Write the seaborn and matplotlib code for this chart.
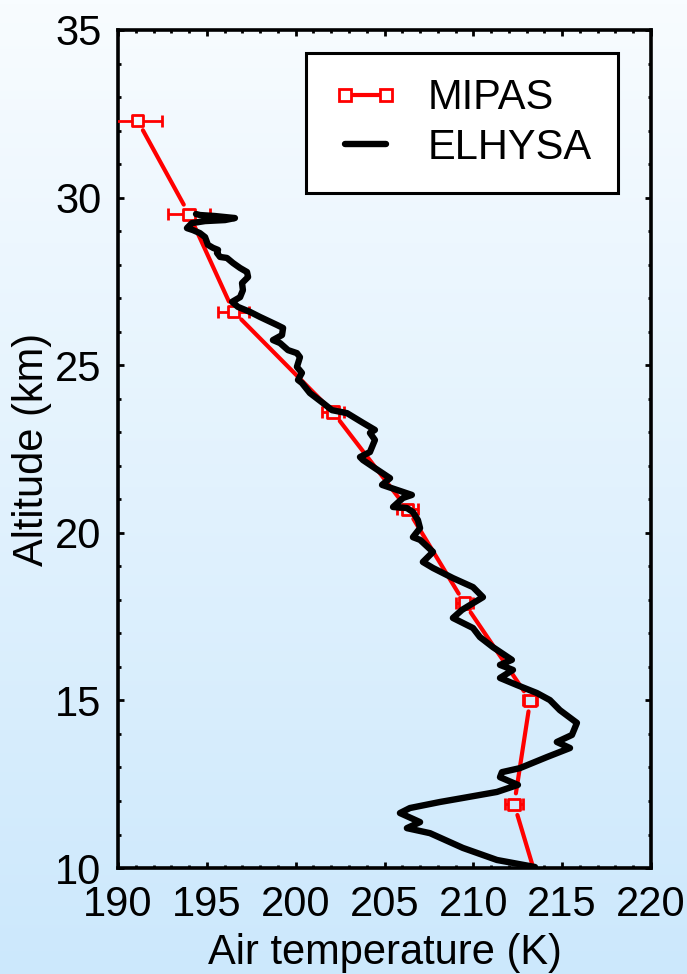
import numpy as np
import pandas as pd
import matplotlib
matplotlib.use("Agg")
import matplotlib.pyplot as plt
import seaborn as sns
from matplotlib.lines import Line2D
from matplotlib.ticker import MultipleLocator

# ---------------- data ----------------
mipas_temp = [191.1, 194.0, 196.5, 202.1, 206.3, 209.5, 213.2, 212.3, 214.0]
mipas_alt = [32.3, 29.5, 26.6, 23.6, 20.7, 17.9, 15.0, 11.9, 8.9]
mipas_err = [1.4, 1.2, 0.9, 0.6, 0.6, 0.5, 0.4, 0.5, 0.5]

elhysa_temp = [213.47, 211.33, 209.41, 207.56, 206.26, 207.00, 205.87, 206.43, 208.12, 209.41,
               211.33, 212.51, 211.50, 211.61, 212.62, 214.14, 215.44, 214.70, 215.55, 215.83,
               214.87, 214.31, 213.58, 212.45, 211.50, 212.23, 211.50, 212.17, 211.10, 210.37,
               209.98, 208.85, 209.36, 210.54, 209.98, 208.85, 208.29, 207.73, 207.16, 207.73,
               207.00, 206.60, 207.00, 206.88, 206.60, 206.26, 205.48, 206.04, 206.54, 205.70,
               204.86, 205.31, 204.63, 203.79, 203.62, 204.18, 204.46, 204.18, 204.46, 203.79,
               202.89, 202.04, 201.54, 200.80, 200.35, 200.13, 200.35, 200.07, 200.24, 200.07,
               199.57, 199.12, 198.72, 199.23, 199.29, 198.95, 197.99, 197.43, 196.75, 196.42,
               196.87, 197.03, 196.98, 197.32, 197.26, 196.87, 196.47, 196.13, 195.74, 195.57,
               195.63, 195.35, 195.06, 194.90, 194.61, 194.22, 193.88, 194.16, 194.90, 196.02,
               196.58, 195.46, 194.61, 194.39]
elhysa_alt = [10.03, 10.24, 10.60, 11.04, 11.19, 11.37, 11.64, 11.79, 11.97, 12.09,
              12.27, 12.48, 12.71, 12.86, 12.98, 13.31, 13.58, 13.76, 13.97, 14.33,
              14.71, 15.01, 15.22, 15.46, 15.67, 15.91, 16.06, 16.21, 16.59, 16.89,
              17.16, 17.46, 17.70, 18.08, 18.38, 18.65, 18.80, 18.95, 19.13, 19.43,
              19.79, 19.87, 20.14, 20.38, 20.62, 20.74, 20.77, 21.04, 21.13, 21.28,
              21.43, 21.63, 21.87, 22.17, 22.26, 22.41, 22.77, 22.98, 23.07, 23.28,
              23.57, 23.66, 23.87, 24.17, 24.47, 24.56, 24.77, 24.95, 25.24, 25.36,
              25.45, 25.66, 25.75, 25.90, 26.11, 26.20, 26.44, 26.59, 26.74, 26.89,
              27.03, 27.24, 27.45, 27.63, 27.78, 27.90, 28.05, 28.20, 28.23, 28.35,
              28.44, 28.50, 28.59, 28.82, 28.94, 29.03, 29.09, 29.24, 29.30, 29.33,
              29.39, 29.45, 29.48, 29.51]

x_ticks = [190, 195, 200, 205, 210, 215, 220]
y_ticks = [10, 15, 20, 25, 30, 35]
x_label = "Air temperature (K)"
y_label = "Altitude (km)"
series_names = ["MIPAS", "ELHYSA"]

# ---------------- style ----------------
sns.set_style("ticks")
plt.rcParams["font.family"] = ["Liberation Sans", "DejaVu Sans"]
plt.rcParams["text.color"] = "black"
plt.rcParams["axes.labelcolor"] = "black"
plt.rcParams["xtick.color"] = "black"
plt.rcParams["ytick.color"] = "black"

TOP_BG = np.array([248, 252, 255]) / 255
BOT_BG = np.array([204, 232, 252]) / 255

fig = plt.figure(figsize=(6.87, 9.74), dpi=100)
fig.patch.set_facecolor(BOT_BG)

# gradient background
bg = fig.add_axes([0, 0, 1, 1], zorder=-10)
grad = np.linspace(0, 1, 256)[:, None, None]
img = TOP_BG[None, None, :] * (1 - grad) + BOT_BG[None, None, :] * grad
bg.imshow(img, aspect="auto", extent=[0, 1, 0, 1], origin="upper")
bg.axis("off")

ax = fig.add_axes([0.1718, 0.1088, 0.7758, 0.8604])
ax.set_facecolor("none")

df_e = pd.DataFrame({"T": elhysa_temp, "Z": elhysa_alt})
df_m = pd.DataFrame({"T": mipas_temp, "Z": mipas_alt, "err": mipas_err})

ax.set_xlim(190, 220)
ax.set_ylim(10, 35)

# MIPAS connecting line with gaps around markers
n = len(mipas_temp)
for i in range(n - 1):
    ann = ax.annotate("", xy=(mipas_temp[i + 1], mipas_alt[i + 1]),
                      xytext=(mipas_temp[i], mipas_alt[i]),
                      xycoords="data", textcoords="data", annotation_clip=False,
                      arrowprops=dict(arrowstyle="-", color="#ff0000", lw=3.0,
                                      shrinkA=8, shrinkB=8 if i < n - 2 else 0),
                      zorder=2)
    ann.arrow_patch.set_clip_box(ax.bbox)
    ann.arrow_patch.set_clip_on(True)

# error bars
ax.errorbar(df_m["T"], df_m["Z"], xerr=df_m["err"], fmt="none", ecolor="#ff0000",
            elinewidth=2.0, capsize=4.5, capthick=2.0, zorder=3)

# markers
sns.scatterplot(data=df_m, x="T", y="Z", marker="s", s=68, color="#ff0000",
                edgecolor="#ff0000", linewidth=2.0, ax=ax, zorder=4, legend=False)
fig.canvas.draw()
coll = ax.collections[-1]
facecols = []
H = fig.get_size_inches()[1] * fig.dpi
for t, z in zip(mipas_temp, mipas_alt):
    yf = ax.transData.transform((t, z))[1] / H
    c = TOP_BG * yf + BOT_BG * (1 - yf)
    facecols.append(np.clip(c, 0, 1))
coll.set_facecolor(facecols)

# ELHYSA profile
sns.lineplot(data=df_e, x="T", y="Z", sort=False, estimator=None, color="black",
             lw=4.6, ax=ax, zorder=5, solid_joinstyle="round", solid_capstyle="round")

ax.set_xlim(190, 220)
ax.set_ylim(10, 35)
ax.set_xticks(x_ticks)
ax.set_yticks(y_ticks)
ax.set_xticklabels([str(v) for v in x_ticks])
ax.set_yticklabels([str(v) for v in y_ticks])
ax.xaxis.set_minor_locator(MultipleLocator(1))
ax.yaxis.set_minor_locator(MultipleLocator(1))
ax.tick_params(which="both", direction="in", top=True, right=True, colors="black",
               labelcolor="black")
ax.tick_params(which="major", length=4.5, width=2.0, labelsize=30, pad=12)
ax.tick_params(which="minor", length=2.5, width=2.0)
for s in ax.spines.values():
    s.set_linewidth(2.6)
    s.set_color("black")

ax.set_xlabel(x_label, fontsize=30, labelpad=6, color="black")
ax.set_ylabel(y_label, fontsize=30, labelpad=2, color="black")

handles = [
    Line2D([0], [0], color="#ff0000", lw=3.0, marker="s", markersize=8,
           markerfacecolor="white", markeredgecolor="#ff0000", markeredgewidth=2.0),
    Line2D([0], [0], color="black", lw=4.6, solid_capstyle="round"),
]
leg = ax.legend(handles, series_names, loc="upper right", bbox_to_anchor=(0.938, 0.973),
                bbox_transform=ax.transAxes, borderaxespad=0, fontsize=30, numpoints=2,
                handlelength=1.6, handletextpad=0.7, borderpad=0.62, labelspacing=0.22,
                frameon=True, fancybox=False, framealpha=1, facecolor="white",
                edgecolor="black", labelcolor="black")
leg.get_frame().set_linewidth(2.2)

fig.savefig("out.png", dpi=100, facecolor=fig.get_facecolor())
